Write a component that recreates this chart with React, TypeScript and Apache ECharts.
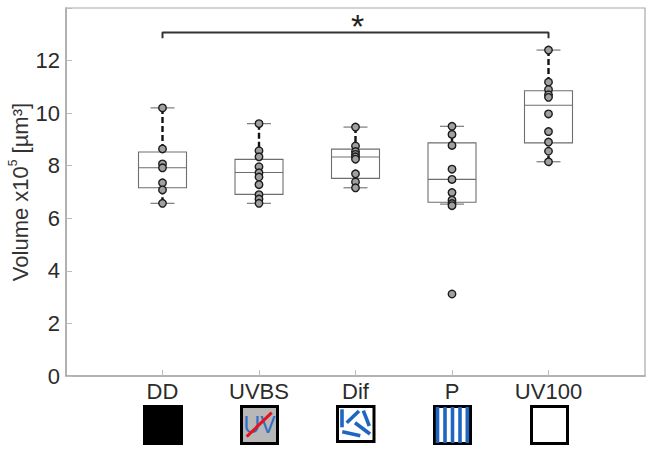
import React, { useEffect, useRef } from "react";
import * as echarts from "echarts";

const categories = ["DD", "UVBS", "Dif", "P", "UV100"];
const yTicks = [0, 2, 4, 6, 8, 10, 12];
// [whisker low, q1, median, q3, whisker high]
const boxStats = [
  [6.57, 7.16, 7.92, 8.52, 10.2],
  [6.57, 6.91, 7.74, 8.24, 9.6],
  [7.16, 7.52, 8.33, 8.63, 9.47],
  [6.54, 6.61, 7.48, 8.87, 9.5],
  [8.15, 8.87, 10.3, 10.85, 12.4],
];
const ddPoints = [10.2, 8.64, 8.07, 7.92, 7.35, 7.08, 6.57];
const uvbsPoints = [9.6, 8.57, 8.34, 7.96, 7.73, 7.57, 7.28, 6.9, 6.73, 6.57];
const difPoints = [9.47, 8.75, 8.54, 8.43, 8.34, 8.25, 7.69, 7.38, 7.16];
const pPoints = [9.5, 9.19, 8.77, 7.87, 7.48, 6.98, 6.69, 6.56, 6.48, 3.12];
const uv100Points = [12.4, 11.18, 10.9, 10.7, 10.6, 9.97, 9.3, 8.9, 8.55, 8.15];
const allPoints = [ddPoints, uvbsPoints, difPoints, pPoints, uv100Points];
const bracket = [
  [1, 12.85],
  [1, 13.07],
  [5, 13.07],
  [5, 12.85],
];

const FONT = '"Liberation Sans", Arial, sans-serif';
const BLUE = "#1f66c1";

function frame(x: number, y: number, w: number, h: number, fill: string) {
  return {
    type: "rect",
    shape: { x: x + 1.5, y: y + 1.5, width: w - 3, height: h - 3 },
    style: { fill, stroke: "#000", lineWidth: 3 },
  };
}

function stick(x1: number, y1: number, x2: number, y2: number) {
  return {
    type: "line",
    shape: { x1, y1, x2, y2 },
    style: { stroke: BLUE, lineWidth: 3.6 },
  };
}

const iconElements: any[] = [
  frame(143, 405, 40, 40, "#000"),
  frame(240, 405, 39, 40, "#b8b8b8"),
  {
    type: "text",
    x: 259.5,
    y: 425,
    style: {
      text: "UV",
      fill: "#2f6fc4",
      font: `23px ${FONT}`,
      align: "center",
      verticalAlign: "middle",
    },
  },
  {
    type: "line",
    shape: { x1: 246.7, y1: 436.7, x2: 271.7, y2: 412.7 },
    style: { stroke: "#e3141c", lineWidth: 3 },
  },
  frame(336, 405, 39.5, 38, "#fff"),
  stick(342, 409.3, 342, 427.3),
  stick(359, 411, 346.7, 422.7),
  stick(363.3, 410.7, 369.3, 426),
  stick(355, 422.7, 370, 434),
  stick(342.3, 431.7, 360.3, 435.7),
  frame(433, 405, 39, 40, "#fff"),
  ...[437.5, 445, 452.5, 460, 467.3].map((x) => ({
    type: "rect",
    shape: { x: x - 1.8, y: 407, width: 3.6, height: 36 },
    style: { fill: BLUE },
  })),
  frame(530, 405, 39, 40, "#fff"),
  {
    type: "text",
    x: 357.5,
    y: 26,
    style: {
      text: "*",
      fill: "#222",
      font: `34px ${FONT}`,
      align: "center",
      verticalAlign: "middle",
    },
  },
];

export default function App() {
  const ref = useRef<HTMLDivElement>(null);
  useEffect(() => {
    const chart = echarts.init(ref.current!, undefined, { renderer: "svg" });
    chart.setOption({
      animation: false,
      backgroundColor: "#fff",
      grid: { left: 66, top: 8, width: 579, height: 368, containLabel: false, outerBoundsMode: "none" },
      xAxis: {
        type: "value",
        min: 0,
        max: 6,
        interval: 1,
        axisLine: { show: true, lineStyle: { color: "#a8a8a8", width: 1.5 } },
        axisTick: { show: true, inside: true, length: 6, lineStyle: { color: "#bbb" } },
        splitLine: { show: false },
        axisLabel: {
          color: "#2b2b2b",
          fontFamily: FONT,
          fontSize: 22,
          margin: 4,
          showMinLabel: false,
          showMaxLabel: false,
          formatter: (v: number) => categories[v - 1] ?? "",
        },
      },
      yAxis: {
        type: "value",
        min: 0,
        max: 14,
        interval: 2,
        name: "{n|Volume x10}{s|5}{n| [µm³]}",
        nameLocation: "middle",
        nameGap: 33,
        nameMoveOverlap: false,
        nameTextStyle: {
          rich: {
            n: { fontSize: 22, fontFamily: FONT, color: "#333" },
            s: { fontSize: 12, fontFamily: FONT, color: "#333", verticalAlign: "top", lineHeight: 26 },
          },
        },
        axisLine: { show: true, lineStyle: { color: "#a8a8a8", width: 1.5 } },
        axisTick: { show: true, inside: true, length: 6, lineStyle: { color: "#bbb" } },
        splitLine: { show: false },
        axisLabel: {
          color: "#2b2b2b",
          fontFamily: FONT,
          fontSize: 22,
          margin: 6,
          formatter: (v: number) => (yTicks.includes(v) ? String(v) : ""),
        },
      },
      graphic: { elements: [
        { type: "rect", shape: { x: 66, y: 8, width: 579, height: 368 }, style: { fill: "none", stroke: "#a8a8a8", lineWidth: 1.2 }, silent: true },
        ...iconElements,
      ] },
      series: [
        {
          type: "custom",
          coordinateSystem: "cartesian2d",
          data: boxStats.map((s, i) => [i + 1, ...s]),
          encode: { x: 0, y: [1, 2, 3, 4, 5] },
          z: 2,
          renderItem: (_p: any, api: any) => {
            const x = api.value(0);
            const [lo, q1, med, q3, hi] = [1, 2, 3, 4, 5].map((k) => api.value(k));
            const pt = (xx: number, yy: number) => api.coord([xx, yy]);
            const cx = pt(x, med)[0];
            const yLo = pt(x, lo)[1];
            const yQ1 = pt(x, q1)[1];
            const yMed = pt(x, med)[1];
            const yQ3 = pt(x, q3)[1];
            const yHi = pt(x, hi)[1];
            const hw = 24;
            const cap = 12;
            const grey = { stroke: "#6e6e6e", lineWidth: 1.1, fill: "none" };
            const whisk = { stroke: "#111", lineWidth: 2.4, lineDash: [6, 3], fill: "none" };
            return {
              type: "group",
              children: [
                { type: "line", shape: { x1: cx, y1: yHi, x2: cx, y2: yQ3 }, style: whisk },
                { type: "line", shape: { x1: cx, y1: yLo, x2: cx, y2: yQ1 }, style: whisk },
                { type: "line", shape: { x1: cx - cap, y1: yHi, x2: cx + cap, y2: yHi }, style: grey },
                { type: "line", shape: { x1: cx - cap, y1: yLo, x2: cx + cap, y2: yLo }, style: grey },
                { type: "rect", shape: { x: cx - hw, y: yQ3, width: 2 * hw, height: yQ1 - yQ3 }, style: { ...grey, fill: "#fff" } },
                { type: "line", shape: { x1: cx - hw, y1: yMed, x2: cx + hw, y2: yMed }, style: grey },
              ],
            };
          },
        },
        {
          type: "scatter",
          data: allPoints.flatMap((pts, i) => pts.map((v) => [i + 1, v])),
          symbol: "circle",
          symbolSize: 7.5,
          z: 3,
          itemStyle: { color: "#a0a0a0", borderColor: "#1c1c1c", borderWidth: 1.4, opacity: 1 },
        },
        {
          type: "line",
          data: bracket,
          symbol: "none",
          z: 3,
          lineStyle: { color: "#333", width: 2 },
        },
      ],
    });
    return () => chart.dispose();
  }, []);
  return <div ref={ref} style={{ position: "fixed", left: 0, top: 0, width: 654, height: 453 }} />;
}
